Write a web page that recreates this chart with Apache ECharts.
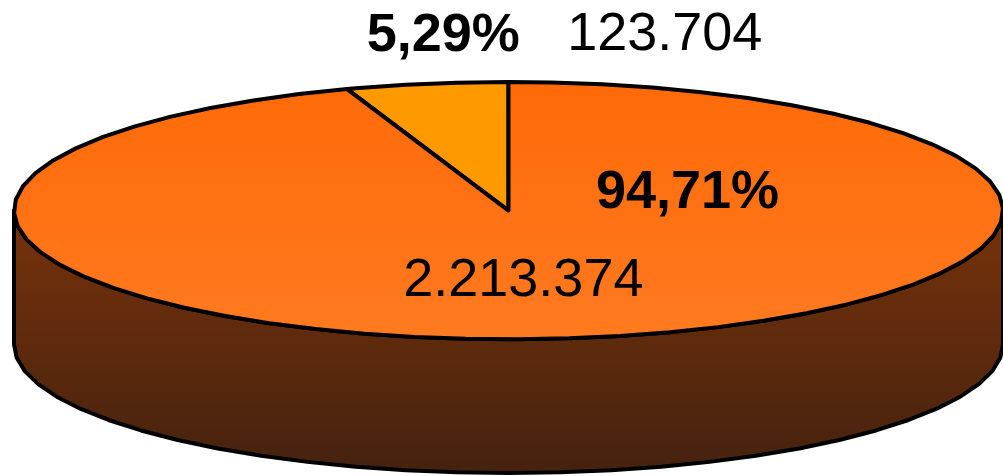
<!DOCTYPE html>
<html>
<head>
<meta charset="utf-8">
<script src="https://cdn.jsdelivr.net/npm/echarts@6/dist/echarts.min.js"></script>
<style>
  html, body { margin: 0; padding: 0; background: #fff; }
  #chart { width: 1003px; height: 476px; }
</style>
</head>
<body>
<div id="chart"></div>
<script>
// data
const sliceNames = ['Part A', 'Part B']
const sliceValues = [123704, 2213374]

// styles
const topColors = [
  ['#FF9900', '#FF9900'],
  ['#FF6A08', '#FF7A20'],
]
const wallColors = ['#74310A', '#45220F']
const FONT = '"Liberation Sans", Arial, sans-serif'

// label anchors in pie units (x: -1..1, y: up)
const labelPos = [
  { pct: [-0.132, 1.358], val: [0.316, 1.366] },
  { pct: [0.362, 0.136], val: [0.030, -0.549] },
]

const DEPTH = 1.04 // wall height, in vertical radius units
const STEP = 6 // degrees per edge segment

const total = sliceValues.reduce((a, b) => a + b, 0)
let acc = 0
const slices = sliceValues.map((v, i) => {
  const start = acc / total * 360
  acc += v
  return { name: sliceNames[i], value: v, start, end: acc / total * 360 }
})

function fmtNum(v) {
  return String(v).replace(/\B(?=(\d{3})+(?!\d))/g, '.')
}
function fmtPct(v) {
  return (v / total * 100).toFixed(2).replace('.', ',') + '%'
}

// angle from 12 o'clock, counter-clockwise
function pt(phi, dy) {
  const r = phi * Math.PI / 180
  return [-Math.sin(r), Math.cos(r) - (dy || 0)]
}

function arc(api, from, to, dy) {
  const pts = []
  if (from <= to) {
    for (let a = from; a < to; a += STEP) pts.push(api.coord(pt(a, dy)))
  } else {
    for (let a = from; a > to; a -= STEP) pts.push(api.coord(pt(a, dy)))
  }
  pts.push(api.coord(pt(to, dy)))
  return pts
}

const chart = echarts.init(document.getElementById('chart'))

const option = {
  animation: false,
  grid: { left: 14, top: 82, width: 994, height: 391 },
  xAxis: { type: 'value', min: -1, max: 1, show: false },
  yAxis: { type: 'value', min: -1 - DEPTH, max: 1, show: false },
  series: [
    {
      type: 'custom',
      name: 'walls',
      z: 1,
      data: slices.map(s => [s.start, s.end]),
      renderItem(params, api) {
        const s = slices[params.dataIndex]
        const lo = Math.max(s.start, 90)
        const hi = Math.min(s.end, 270)
        if (lo >= hi) return { type: 'group', children: [] }
        const pts = arc(api, lo, hi, 0).concat(arc(api, hi, lo, DEPTH))
        const yTop = api.coord([0, -1])[1]
        const yBot = api.coord([0, -1 - DEPTH])[1]
        return {
          type: 'polygon',
          shape: { points: pts },
          style: {
            fill: {
              type: 'linear', x: 0, y: yTop - 110, x2: 0, y2: yBot, global: true,
              colorStops: [{ offset: 0, color: wallColors[0] }, { offset: 1, color: wallColors[1] }],
            },
            stroke: '#000',
            lineWidth: 4,
            lineJoin: 'round',
          },
        }
      },
    },
    {
      type: 'custom',
      name: 'tops',
      z: 2,
      data: slices.map(s => [s.start, s.end]),
      renderItem(params, api) {
        const i = params.dataIndex
        const s = slices[i]
        const pts = [api.coord([0, 0])].concat(arc(api, s.start, s.end, 0))
        const yTop = api.coord([0, 1])[1]
        const yBot = api.coord([0, -1])[1]
        const lp = labelPos[i]
        const p1 = api.coord(lp.pct)
        const p2 = api.coord(lp.val)
        return {
          type: 'group',
          children: [
            {
              type: 'polygon',
              shape: { points: pts },
              style: {
                fill: {
                  type: 'linear', x: 0, y: yTop, x2: 0, y2: yBot, global: true,
                  colorStops: [{ offset: 0, color: topColors[i][0] }, { offset: 1, color: topColors[i][1] }],
                },
                stroke: '#000',
                lineWidth: 4,
                lineJoin: 'round',
              },
            },
            {
              type: 'text',
              z2: 10,
              style: {
                text: fmtPct(s.value), x: p1[0], y: p1[1],
                align: 'center', verticalAlign: 'middle',
                font: 'bold 54px ' + FONT, fill: '#000',
              },
            },
            {
              type: 'text',
              z2: 10,
              style: {
                text: fmtNum(s.value), x: p2[0], y: p2[1],
                align: 'center', verticalAlign: 'middle',
                font: '54px ' + FONT, fill: '#000',
              },
            },
          ],
        }
      },
    },
  ],
}

chart.setOption(option)
window.addEventListener('resize', () => chart.resize())
</script>
</body>
</html>
